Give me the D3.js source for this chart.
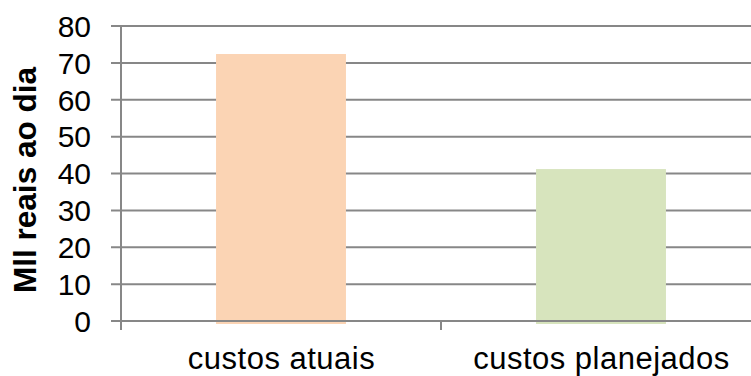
<!DOCTYPE html>
<html><head><meta charset="utf-8">
<script src="https://cdn.jsdelivr.net/npm/d3@7"></script>
<style>body{margin:0;background:#fff}svg{display:block}text{font-family:"Liberation Sans",Arial,sans-serif;fill:#000}</style>
</head><body>
<svg id="c" width="751" height="376"></svg>
<script>
const categories = ["custos atuais", "custos planejados"];
const values = [72.4, 41.2];
const barColors = ["#FBD4B4", "#D7E4BD"];
const yTicks = [0, 10, 20, 30, 40, 50, 60, 70, 80];
const yTitle = "Mll reais ao dia";

(function () {
const svg = d3.select("#c");
const pLeft = 121, pRight = 761, pTop = 26, pBottom = 321;
const y = d3.scaleLinear().domain([0, 80]).range([pBottom, pTop]);
const p = 0.594;
const x = d3.scaleBand().domain(categories).range([pLeft, pRight]).paddingInner(p).paddingOuter(p / 2);
const grid = "#878787";

// gridlines (non-zero) behind bars
svg.append("g").selectAll("line").data(yTicks.filter(d => d !== 0)).join("line")
  .attr("x1", pLeft - 10).attr("x2", 751)
  .attr("y1", d => y(d)).attr("y2", d => y(d))
  .attr("stroke", grid).attr("stroke-width", 2);

// bars
svg.append("g").selectAll("rect").data(values).join("rect")
  .attr("x", (d, i) => x(categories[i]))
  .attr("width", x.bandwidth())
  .attr("y", d => y(d))
  .attr("height", d => y(0) - y(d) + 3)
  .attr("fill", (d, i) => barColors[i]);

// zero line on top
svg.append("line").attr("x1", pLeft - 10).attr("x2", 751)
  .attr("y1", y(0)).attr("y2", y(0)).attr("stroke", grid).attr("stroke-width", 2);

// vertical axis
svg.append("line").attr("x1", pLeft).attr("x2", pLeft)
  .attr("y1", pTop - 1).attr("y2", pBottom + 9).attr("stroke", grid).attr("stroke-width", 2);

// category ticks
const step = x.step();
svg.append("g").selectAll("line").data(categories.slice(1)).join("line")
  .attr("x1", d => x(d) - x.paddingInner() * step / 2)
  .attr("x2", d => x(d) - x.paddingInner() * step / 2)
  .attr("y1", pBottom).attr("y2", pBottom + 9)
  .attr("stroke", grid).attr("stroke-width", 2);

// y tick labels
svg.append("g").selectAll("text").data(yTicks).join("text")
  .attr("x", 91).attr("y", d => y(d))
  .attr("dy", "0.36em").attr("text-anchor", "end")
  .style("font-size", "30px").text(d => d);

// category labels
svg.append("g").selectAll("text").data(categories).join("text")
  .attr("x", d => x(d) + x.bandwidth() / 2 + 0.5)
  .attr("y", 369).attr("text-anchor", "middle")
  .style("font-size", "31px").style("letter-spacing", "0.5px").text(d => d);

// y title
svg.append("text").attr("transform", "translate(36,180) rotate(-90)")
  .attr("text-anchor", "middle").style("font-size", "31px").style("font-weight", "bold")
  .attr("textLength", 226).attr("lengthAdjust", "spacingAndGlyphs")
  .text(yTitle);
})();
</script>
</body></html>
